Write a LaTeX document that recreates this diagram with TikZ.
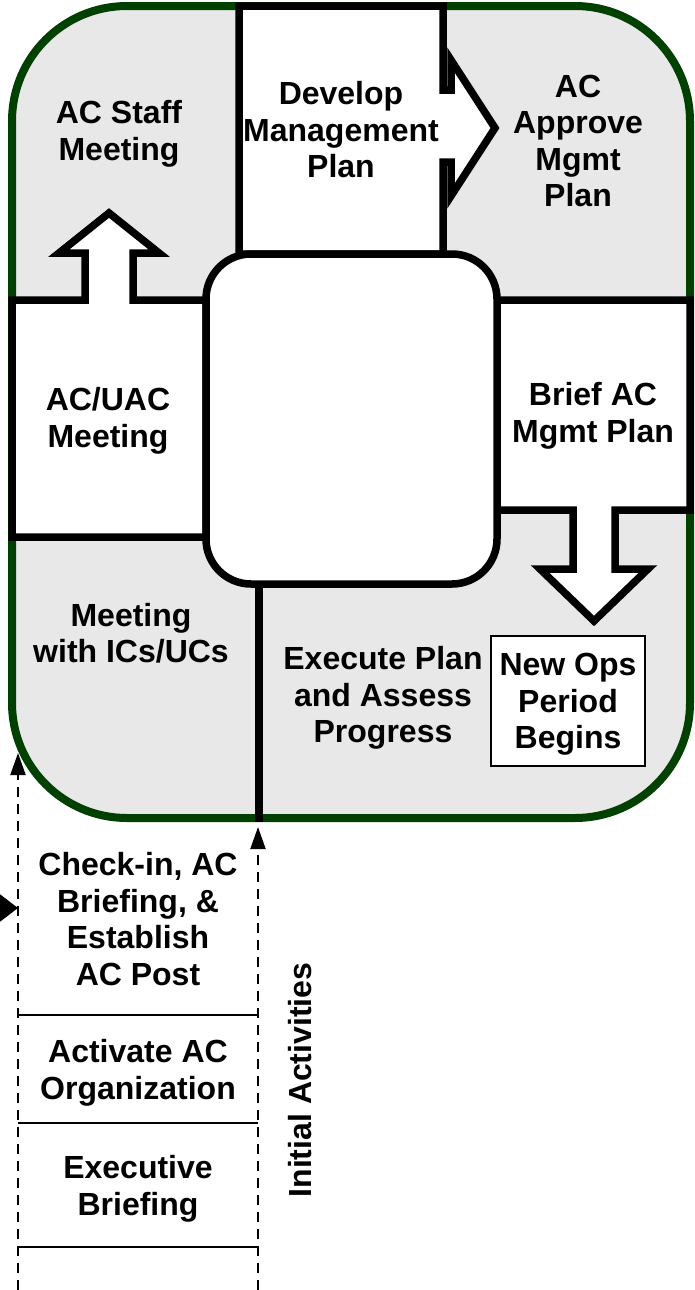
\documentclass[tikz,border=0pt]{standalone}
\usepackage{fontspec}
\setmainfont{Liberation Sans}
\usetikzlibrary{arrows.meta}

\definecolor{ringgreen}{RGB}{0,64,0}
\definecolor{ringgray}{RGB}{232,232,232}

\tikzset{
    steptext/.style={align=center, font=\fontsize{16}{18.25}\selectfont\bfseries},
    blockshape/.style={draw=black, fill=white, line width=3.75pt},
    guide/.style={dash pattern=on 5pt off 3.5pt, line width=1pt, -{Triangle[length=11pt, width=7.5pt]}},
    separator/.style={line width=1pt},
}

\newcommand{\outerring}{
    % Rounded green ring of the cycle
    \filldraw[draw=ringgreen, fill=ringgray, line width=4pt, rounded corners=57.5pt] (12,6) rectangle (690,818);
}
\newcommand{\initialcolumn}{
    % Dashed column of the initial activities
    \begin{scope}
        \coordinate (left guide start) at (18,1290);
        \coordinate (left guide end) at (18,753);
        \coordinate (right guide start) at (258,1290);
        \coordinate (right guide end) at (258,827);
        \draw[guide] (left guide start) -- (left guide end);
        \draw[guide] (right guide start) -- (right guide end);
        \foreach \y in {1015, 1123, 1247}
            \draw[separator] (18,\y) -- (258,\y);
    \end{scope}
}

\begin{document}
\begin{tikzpicture}[x=0.5pt, y={(0pt,-0.5pt)}]
    \useasboundingbox (0,0) rectangle (695,1290);

    \outerring;

    % Develop plan box with its arrow to the right
    \filldraw[blockshape] (239,6) -- (443,6) -- (443,90) -- (451,90) -- (451,60) -- (495,128)
        -- (451,196) -- (451,162) -- (443,162) -- (443,254) -- (239,254) -- cycle;

    % AC/UAC box with its arrow upwards
    \filldraw[blockshape] (12,300) -- (85,300) -- (85,253) -- (59,253) -- (109,213) -- (159,253)
        -- (133,253) -- (133,300) -- (206,300) -- (206,537) -- (12,537) -- cycle;

    % Brief box with its arrow downwards
    \filldraw[blockshape] (497,300) -- (690,300) -- (690,510) -- (615,510) -- (615,569) -- (648,569)
        -- (594,621) -- (540,569) -- (573,569) -- (573,510) -- (497,510) -- cycle;

    % Centre of the cycle and the divider below it
    \filldraw[blockshape, rounded corners=22.5pt] (206,254) rectangle (497,584);
    \coordinate (hub bottom) at (259,584);
    \coordinate (ring bottom) at (259,822);
    \draw[line width=3.75pt] (hub bottom) -- (ring bottom);

    % Steps of the cycle
    \node[steptext] (staff meeting) at (119,134) {AC Staff\\Meeting};
    \node[steptext] (develop plan) at (341,130) {Develop\\Management\\Plan};
    \node[steptext] (approve plan) at (578,141) {AC\\Approve\\Mgmt\\Plan};
    \node[steptext] (uac meeting) at (108,421) {AC/UAC\\Meeting};
    \node[steptext] (brief plan) at (593,416) {Brief AC\\Mgmt Plan};
    \node[steptext] (ic meeting) at (131,633) {Meeting\\with ICs/UCs};
    \node[steptext] (execute plan) at (383,698) {Execute Plan\\and Assess\\Progress};
    \node[steptext, draw, fill=white, line width=1pt, minimum width=77pt, minimum height=65pt,
        text depth=-1pt] (new period) at (568,701) {New Ops\\Period\\Begins};

    % Initial activities below the cycle
    \initialcolumn;
    \node[steptext] (check in) at (138,919) {Check-in, AC\\Briefing, \&\\Establish\\AC Post};
    \node[steptext] (activate) at (138,1073) {Activate AC\\Organization};
    \node[steptext] (exec briefing) at (138,1189) {Executive\\Briefing};
    \node[steptext, rotate=90] (initial) at (300,1080) {Initial Activities};

    % Entry from the left
    \coordinate (entry start) at (-2,908);
    \coordinate (entry end) at (18,908);
    \draw[line width=1pt, -{Triangle[length=9pt, width=13.5pt]}] (entry start) -- (entry end);
\end{tikzpicture}
\end{document}
